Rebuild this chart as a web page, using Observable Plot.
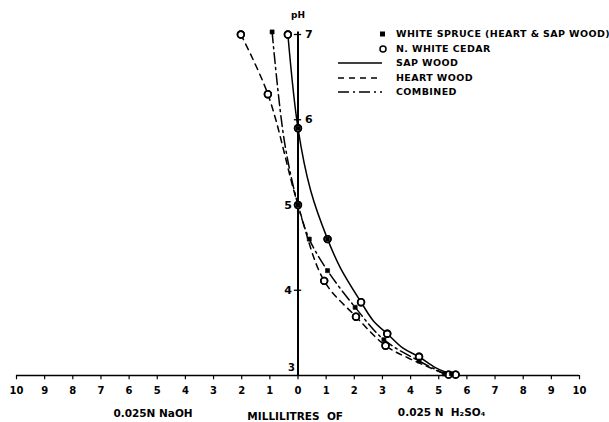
<!DOCTYPE html>
<html>
<head>
<meta charset="utf-8">
<script src="https://cdn.jsdelivr.net/npm/d3@7"></script>
<script src="https://cdn.jsdelivr.net/npm/@observablehq/plot@0.6"></script>
<style>
  html, body { margin: 0; padding: 0; background: #fff; }
  #wrap { position: relative; width: 609px; height: 422px; font-family: "DejaVu Sans", sans-serif; }
  #legend { position: absolute; left: 0; top: 0; pointer-events: none; }
</style>
</head>
<body>
<div id="wrap"></div>
<script>
// ---- data (x: ml; negative = 0.025N NaOH, positive = 0.025N H2SO4; y: pH) ----
const xTicks = [-10,-9,-8,-7,-6,-5,-4,-3,-2,-1,0,1,2,3,4,5,6,7,8,9,10];
const phTicks = [3,4,5,6,7];

const sapWoodX  = [-0.36, 0.00, 0.45, 1.05, 1.51, 2.24, 2.68, 3.17, 3.73, 4.30, 4.90, 5.60];
const sapWoodPH = [ 7.00, 5.90, 5.17, 4.60, 4.26, 3.86, 3.64, 3.49, 3.32, 3.22, 3.09, 3.00];

const heartWoodX  = [-2.03, -1.07, 0.00, 0.93, 2.06, 3.11, 3.95, 5.35];
const heartWoodPH = [ 7.00,  6.30, 5.00, 4.11, 3.69, 3.35, 3.20, 3.00];

const combinedX  = [-0.92, -0.49, 0.00, 0.40, 1.05, 2.03, 3.05, 4.30, 5.20];
const combinedPH = [ 7.03,  5.76, 5.00, 4.60, 4.23, 3.80, 3.42, 3.17, 3.02];

const cedarX  = [-2.03, -1.07, -0.36, 0.00, 0.00, 1.05, 0.93, 2.24, 2.06, 3.17, 3.11, 4.30, 5.35, 5.60];
const cedarPH = [ 7.00,  6.30,  7.00, 5.90, 5.00, 4.60, 4.11, 3.86, 3.69, 3.49, 3.35, 3.22, 3.01, 3.01];

const spruceX  = [-0.92, 0.00, 0.00, 0.40, 1.05, 1.05, 2.03, 3.05, 4.30, 5.20, 5.45];
const sprucePH = [ 7.03, 5.90, 5.00, 4.60, 4.60, 4.23, 3.80, 3.42, 3.17, 3.02, 3.02];

const legendLabels = ["WHITE SPRUCE (HEART & SAP WOOD)", "N. WHITE CEDAR", "SAP WOOD", "HEART WOOD", "COMBINED"];
const bottomLabels = ["0.025N NaOH", "MILLILITRES  OF", "0.025 N  H\u2082SO\u2084"];

// ---- build tables ----
const zip = (xs, ys) => xs.map((x, i) => ({x, y: ys[i]}));
const sap = zip(sapWoodX, sapWoodPH);
const heart = zip(heartWoodX, heartWoodPH);
const comb = zip(combinedX, combinedPH);
const cedar = zip(cedarX, cedarPH);
const spruce = zip(spruceX, sprucePH);

const font = "DejaVu Sans, sans-serif";

const chart = Plot.plot({
  width: 609,
  height: 422,
  marginLeft: 16,
  marginRight: 30,
  marginTop: 34,
  marginBottom: 47,
  x: {domain: [-10, 10], axis: null},
  y: {domain: [3, 7], axis: null},
  style: {fontFamily: font, fontWeight: "bold", background: "#fff", color: "#000"},
  marks: [
    // axes
    Plot.ruleY([3], {x1: -10, x2: 10, stroke: "#000", strokeWidth: 1.5}),
    Plot.ruleX([0], {y1: 3, y2: 7.03, stroke: "#000", strokeWidth: 2}),
    Plot.ruleX(xTicks, {x: d => d, y1: 3, y2: 2.95, stroke: "#000", strokeWidth: 1.2}),
    Plot.ruleY(phTicks.filter(d => d > 3), {y: d => d, x1: -0.13, x2: 0.13, stroke: "#000", strokeWidth: 1.3}),
    Plot.text(xTicks, {x: d => d, y: 3, text: d => String(Math.abs(d)), dy: 15, fontSize: 10, fontWeight: "bold", fill: "#000"}),
    Plot.text(phTicks.filter(d => d >= 6), {x: 0, y: d => d, text: d => String(d), dx: 7, textAnchor: "start", fontSize: 11, fontWeight: "bold", fill: "#000"}),
    Plot.text(phTicks.filter(d => d === 4 || d === 5), {x: 0, y: d => d, text: d => String(d), dx: -6, textAnchor: "end", fontSize: 11, fontWeight: "bold", fill: "#000"}),
    Plot.text(phTicks.filter(d => d === 3), {x: 0, y: d => d, text: d => String(d), dx: -3, dy: -8, textAnchor: "end", fontSize: 10, fontWeight: "bold", fill: "#000"}),
    Plot.text(["pH"], {x: 0, y: 7, text: d => d, dy: -19, fontSize: 9, fontWeight: "bold", fill: "#000"}),
    // curves
    Plot.line(sap, {x: "x", y: "y", curve: "catmull-rom", stroke: "#000", strokeWidth: 1.5}),
    Plot.line(heart, {x: "x", y: "y", curve: "catmull-rom", stroke: "#000", strokeWidth: 1.5, strokeDasharray: "6,5"}),
    Plot.line(comb, {x: "x", y: "y", curve: "catmull-rom", stroke: "#000", strokeWidth: 1.5, strokeDasharray: "11,4,2,4"}),
    // points: white-filled circles, then spruce squares, then circle outlines on top
    Plot.dot(cedar, {x: "x", y: "y", r: 3.4, stroke: "#000", strokeWidth: 1.6, fill: "#fff"}),
    Plot.dot(spruce, {x: "x", y: "y", r: 2.3, symbol: "square", fill: "#000", stroke: "#000", strokeWidth: 0.6}),
    Plot.dot(cedar, {x: "x", y: "y", r: 3.4, stroke: "#000", strokeWidth: 1.6, fill: "none"}),
    // bottom captions
    Plot.text([bottomLabels[0]], {x: -5.15, y: 3, text: d => d, dy: 38, fontSize: 10.5, fontWeight: "bold", fill: "#000"}),
    Plot.text([bottomLabels[1]], {x: -0.1, y: 3, text: d => d, dy: 41, fontSize: 10.5, fontWeight: "bold", fill: "#000", letterSpacing: "0.8px"}),
    Plot.text([bottomLabels[2]], {x: 5.1, y: 3, text: d => d, dy: 37, fontSize: 10.5, fontWeight: "bold", fill: "#000"})
  ]
});

const wrap = document.getElementById("wrap");
wrap.appendChild(chart);

// ---- legend overlay ----
const lg = d3.select(wrap).append("svg")
  .attr("id", "legend").attr("width", 609).attr("height", 422)
  .style("font-family", font).style("font-weight", "bold");
const rowY = [34, 49, 63, 78, 92];
const textX = 396;
lg.append("rect").attr("x", 380).attr("y", rowY[0] - 2.5).attr("width", 5).attr("height", 5).attr("fill", "#000");
lg.append("circle").attr("cx", 383).attr("cy", rowY[1]).attr("r", 3).attr("fill", "#fff").attr("stroke", "#000").attr("stroke-width", 1.5);
const dashes = [null, "6,5", "11,4,2,4"];
dashes.forEach((da, i) => {
  const l = lg.append("line").attr("x1", 338).attr("x2", 382).attr("y1", rowY[i + 2]).attr("y2", rowY[i + 2])
    .attr("stroke", "#000").attr("stroke-width", 1.5);
  if (da) l.attr("stroke-dasharray", da);
});
legendLabels.forEach((t, i) => {
  lg.append("text").attr("x", textX).attr("y", rowY[i]).attr("dy", "0.35em")
    .attr("font-size", 9.5).attr("letter-spacing", 0.4).attr("fill", "#000").text(t);
});
</script>
</body>
</html>
